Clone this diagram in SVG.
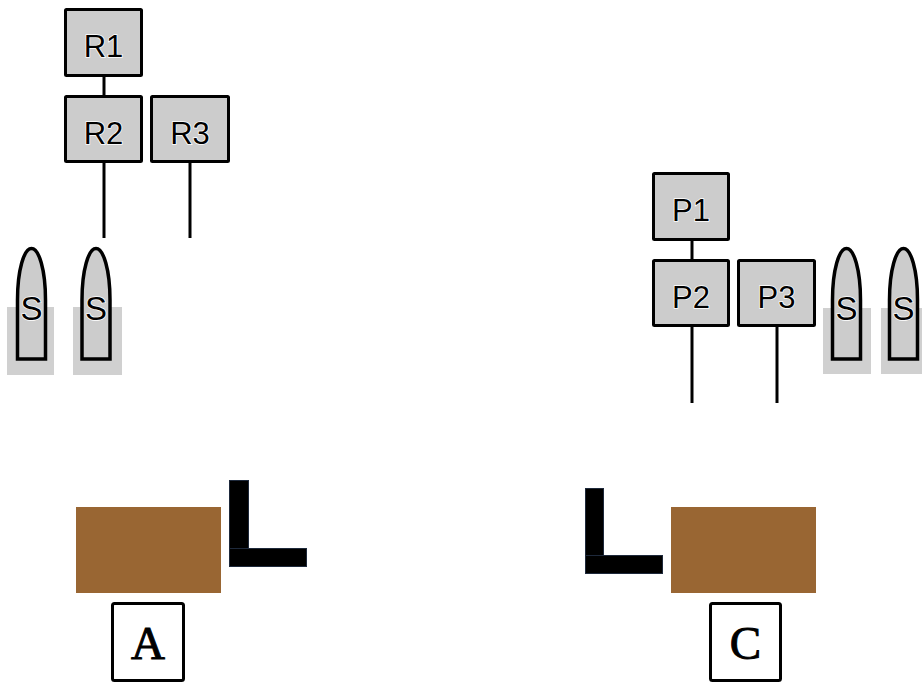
<svg xmlns="http://www.w3.org/2000/svg" width="922" height="682" viewBox="0 0 922 682">
<style>
.box{fill:#cccccc;stroke:#000;stroke-width:3}
.lbl{font-family:"Liberation Sans",Arial,sans-serif;font-size:31px;fill:#000;text-anchor:middle;stroke:#fff;stroke-width:1.5;paint-order:stroke}
.slbl{font-family:"Liberation Sans",Arial,sans-serif;font-size:33px;fill:#000;text-anchor:middle;stroke:#fff;stroke-width:1.5;paint-order:stroke}
.bg{fill:#d0d0d0}
.bullet{fill:#cccccc;stroke:#000;stroke-width:3.5}
.conn{stroke:#000;stroke-width:3;fill:none}
.wood{fill:#996633}
.ell{fill:#000;stroke:#1e293b;stroke-width:1}
.card{fill:#fff;stroke:#000;stroke-width:3}
.serif{font-family:"Liberation Serif","Times New Roman",serif;font-size:47px;fill:#000;stroke:#000;stroke-width:1;text-anchor:middle}
</style>
<defs>
<path id="bul" d="M-14,59 V0 C-14,-30 -7.5,-51.5 0,-51.5 C7.5,-51.5 14,-30 14,0 V59 Z"/>
</defs>
<g id="connectors">
<line class="conn" x1="104" y1="77" x2="104" y2="96"/>
<line class="conn" x1="104" y1="162" x2="104" y2="238"/>
<line class="conn" x1="190" y1="162" x2="190" y2="238"/>
<line class="conn" x1="692" y1="240" x2="692" y2="260"/>
<line class="conn" x1="692" y1="326" x2="692" y2="403"/>
<line class="conn" x1="777" y1="326" x2="777" y2="403"/>
</g>
<g id="R1"><rect class="box" x="65.5" y="9.5" width="76" height="66" rx="1"/><text class="lbl" x="103.5" y="57">R1</text></g>
<g id="R2"><rect class="box" x="65.5" y="96.5" width="76" height="65" rx="1"/><text class="lbl" x="103.5" y="144">R2</text></g>
<g id="R3"><rect class="box" x="151.5" y="96.5" width="77" height="65" rx="1"/><text class="lbl" x="190" y="144">R3</text></g>
<g id="P1"><rect class="box" x="653.5" y="173.5" width="75" height="66" rx="1"/><text class="lbl" x="691" y="221">P1</text></g>
<g id="P2"><rect class="box" x="653.5" y="260.5" width="75" height="65" rx="1"/><text class="lbl" x="691" y="308">P2</text></g>
<g id="P3"><rect class="box" x="738.5" y="260.5" width="76" height="65" rx="1"/><text class="lbl" x="776.5" y="308">P3</text></g>
<g id="S1"><rect class="bg" x="7" y="307" width="47" height="68"/><use href="#bul" class="bullet" x="31.5" y="300"/><text class="slbl" x="31.5" y="320">S</text></g>
<g id="S2"><rect class="bg" x="73" y="307" width="49" height="68"/><use href="#bul" class="bullet" x="96" y="300"/><text class="slbl" x="96" y="320">S</text></g>
<g id="S3"><rect class="bg" x="823" y="308" width="48" height="66"/><use href="#bul" class="bullet" x="846.5" y="300"/><text class="slbl" x="846.5" y="320">S</text></g>
<g id="S4"><rect class="bg" x="881" y="308" width="48" height="66"/><use href="#bul" class="bullet" x="903.5" y="300"/><text class="slbl" x="903.5" y="320">S</text></g>
<g id="woodA"><rect class="wood" x="76" y="507" width="145" height="86"/></g>
<g id="LA"><rect class="ell" x="229.5" y="480.5" width="19" height="86"/><rect class="ell" x="229.5" y="548.5" width="77" height="18"/></g>
<g id="A"><rect class="card" x="112.5" y="603.5" width="71" height="77" rx="2"/><text class="serif" x="148" y="659">A</text></g>
<g id="woodC"><rect class="wood" x="671" y="507" width="145" height="86"/></g>
<g id="LC"><rect class="ell" x="585.5" y="488.5" width="18" height="85"/><rect class="ell" x="585.5" y="555.5" width="77" height="18"/></g>
<g id="C"><rect class="card" x="710.5" y="603.5" width="70" height="77" rx="2"/><text class="serif" x="745.5" y="659">C</text></g>
</svg>
